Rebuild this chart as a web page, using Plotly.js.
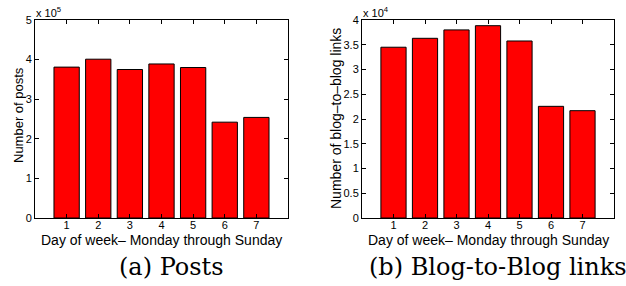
<!DOCTYPE html>
<html>
<head>
<meta charset="utf-8">
<script src="https://cdn.plot.ly/plotly-3.0.1.min.js"></script>
<style>html,body{margin:0;padding:0;background:#fff;}#chart{width:626px;height:286px;}</style>
</head>
<body>
<div id="chart"></div>
<script>
// Data
const days = [1, 2, 3, 4, 5, 6, 7];
const postsE5 = [3.81, 4.01, 3.75, 3.89, 3.80, 2.42, 2.54];      // x 10^5
const linksE4 = [3.45, 3.63, 3.80, 3.885, 3.576, 2.256, 2.168];  // x 10^4
const postsTicks = [0, 1, 2, 3, 4, 5];
const linksTicks = [0, 0.5, 1, 1.5, 2, 2.5, 3, 3.5, 4];
const linksTickText = ['0', '0.5', '1', '1.5', '2', '2.5', '3', '3.5', '4'];
const xTitle = 'Day of week\u2013 Monday through Sunday';
const yTitleA = 'Number of posts';
const yTitleB = 'Number of blog\u2013to\u2013blog links';
const captionA = '(a) Posts';
const captionB = '(b) Blog-to-Blog links';

const sans = 'Liberation Sans, Arial, sans-serif';
const serif = 'DejaVu Serif, serif';
const barStyle = {color: '#ff0000', line: {color: '#000', width: 1}};

const traces = [
  {type: 'bar', x: days, y: postsE5, width: 0.8, marker: barStyle, xaxis: 'x', yaxis: 'y', hoverinfo: 'none'},
  {type: 'bar', x: days, y: linksE4, width: 0.8, marker: barStyle, xaxis: 'x2', yaxis: 'y2', hoverinfo: 'none'}
];

const axCommon = {
  showline: true, linecolor: '#000', linewidth: 1, mirror: 'ticks',
  ticks: 'inside', ticklen: 4, tickcolor: '#000', tickwidth: 1,
  showgrid: false, zeroline: false, fixedrange: true,
  tickfont: {family: sans, size: 11, color: '#000'}
};
const P = (px) => px / 626;
const Q = (py) => 1 - py / 286;

function ann(text, x, y, size, family, extra) {
  return Object.assign({text: text, xref: 'paper', yref: 'paper', x: P(x), y: Q(y),
    xanchor: 'center', yanchor: 'middle', showarrow: false,
    font: {family: family, size: size, color: '#000'}}, extra || {});
}

const layout = {
  width: 626, height: 286,
  margin: {l: 0, r: 0, t: 0, b: 0},
  paper_bgcolor: '#fff', plot_bgcolor: '#fff',
  showlegend: false,
  xaxis: Object.assign({}, axCommon, {
    domain: [P(35), P(288)], range: [0, 8], tickvals: days, ticklabelstandoff: -3, anchor: 'y'
  }),
  yaxis: Object.assign({}, axCommon, {
    domain: [Q(218), Q(20)], range: [0, 5], tickvals: postsTicks, anchor: 'x'
  }),
  xaxis2: Object.assign({}, axCommon, {
    domain: [P(362), P(614)], range: [0, 8], tickvals: days, ticklabelstandoff: -3, anchor: 'y2'
  }),
  yaxis2: Object.assign({}, axCommon, {
    domain: [Q(218), Q(20)], range: [0, 4], tickvals: linksTicks, ticktext: linksTickText, anchor: 'x2'
  }),
  annotations: [
    ann(xTitle, 161, 239.5, 14, sans),
    ann(xTitle, 488, 239.5, 14, sans),
    ann(yTitleA, 18, 115, 13, sans, {textangle: -90}),
    ann(yTitleB, 335.5, 118.5, 14, sans, {textangle: -90}),
    ann('x 10<sup>5</sup>', 34, 12, 11, sans, {xanchor: 'left'}),
    ann('x 10<sup>4</sup>', 361, 12, 11, sans, {xanchor: 'left'}),
    ann(captionA, 171.5, 267, 24, serif),
    ann(captionB, 497.5, 267, 24, serif)
  ]
};

Plotly.newPlot('chart', traces, layout, {displayModeBar: false, staticPlot: true});
</script>
</body>
</html>
